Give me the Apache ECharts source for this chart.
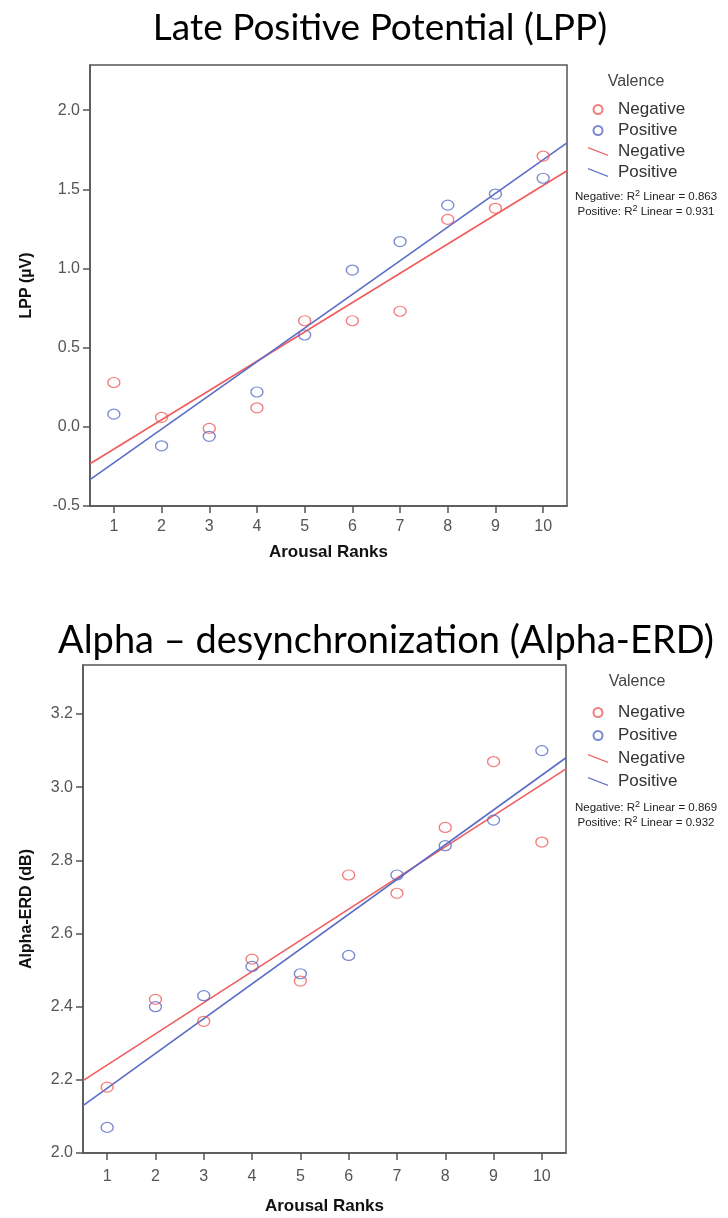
<!DOCTYPE html>
<html>
<head>
<meta charset="utf-8">
<script src="https://cdn.jsdelivr.net/npm/echarts@6/dist/echarts.min.js"></script>
<style>
html,body{margin:0;padding:0;background:#fff;}
#chart{width:728px;height:1218px;}
</style>
</head>
<body>
<div id="chart"></div>
<script>
// ---- data ----
const ranks = [1, 2, 3, 4, 5, 6, 7, 8, 9, 10];
const lppNegative = [0.28, 0.06, -0.01, 0.12, 0.67, 0.67, 0.73, 1.31, 1.38, 1.71];
const lppPositive = [0.08, -0.12, -0.06, 0.22, 0.58, 0.99, 1.17, 1.40, 1.47, 1.57];
const erdNegative = [2.18, 2.42, 2.36, 2.53, 2.47, 2.76, 2.71, 2.89, 3.07, 2.85];
const erdPositive = [2.07, 2.40, 2.43, 2.51, 2.49, 2.54, 2.76, 2.84, 2.91, 3.10];
const lppTicks = [-0.5, 0.0, 0.5, 1.0, 1.5, 2.0];
const erdTicks = [2.0, 2.2, 2.4, 2.6, 2.8, 3.0, 3.2];
const lppR2 = ['0.863', '0.931'];
const erdR2 = ['0.869', '0.932'];
const titles = ['Late Positive Potential (LPP)', 'Alpha \u2013 desynchronization (Alpha-ERD)'];
const yNames = ['LPP (\u00b5V)', 'Alpha-ERD (dB)'];
const xName = 'Arousal Ranks';
const groups = ['Negative', 'Positive'];

// ---- styling ----
const RED = '#f05c5c';
const BLUE = '#5a6cc6';
const X_MIN = 0.5, X_MAX = 10.5;

function pairs(xs, ys) { return xs.map((x, i) => [x, ys[i]]); }
// least-squares linear fit, evaluated at the x-axis extent
function fitLine(xs, ys) {
  const n = xs.length;
  const mx = xs.reduce((a, b) => a + b, 0) / n;
  const my = ys.reduce((a, b) => a + b, 0) / n;
  let sxy = 0, sxx = 0;
  for (let i = 0; i < n; i++) { sxy += (xs[i] - mx) * (ys[i] - my); sxx += (xs[i] - mx) * (xs[i] - mx); }
  const b = sxy / sxx, a = my - b * mx;
  return [[X_MIN, a + b * X_MIN], [X_MAX, a + b * X_MAX]];
}

const labelFont = { fontFamily: 'Liberation Sans, Arial, sans-serif', fontSize: 16, color: '#555' };
const nameFont = { fontFamily: 'Liberation Sans, Arial, sans-serif', fontSize: 16, fontWeight: 'bold', color: '#111' };

function xAxisCfg(gi, margin, nameGap) {
  return {
    gridIndex: gi, type: 'value', min: X_MIN, max: X_MAX,
    name: xName, nameLocation: 'middle', nameGap: nameGap,
    nameTextStyle: Object.assign({}, nameFont, { fontSize: 17 }),
    axisLine: { show: true, onZero: false, lineStyle: { color: '#555', width: 1.5 } },
    axisTick: { show: true, length: 7, customValues: ranks, lineStyle: { color: '#555', width: 1.5 } },
    axisLabel: Object.assign({ customValues: ranks, margin: margin }, labelFont),
    splitLine: { show: false }
  };
}
function yAxisCfg(gi, min, max, ticks, name, nameGap) {
  return {
    gridIndex: gi, type: 'value', min: min, max: max,
    name: name, nameLocation: 'middle', nameGap: nameGap, nameTextStyle: nameFont,
    axisLine: { show: true, onZero: false, lineStyle: { color: '#555', width: 1.5 } },
    axisTick: { show: true, length: 7, customValues: ticks, lineStyle: { color: '#555', width: 1.5 } },
    axisLabel: Object.assign({ customValues: ticks, margin: 10, formatter: v => v.toFixed(1) }, labelFont),
    splitLine: { show: false }
  };
}
function scatterSeries(name, gi, ys, color) {
  return {
    name: name, type: 'scatter', xAxisIndex: gi, yAxisIndex: gi,
    data: pairs(ranks, ys), symbol: 'circle', symbolSize: [12, 10], z: 3,
    itemStyle: { color: 'rgba(255,255,255,0)', borderColor: color, borderWidth: 1.3 }
  };
}
function fitSeries(name, gi, ys, color) {
  return {
    name: name + ' fit', type: 'line', xAxisIndex: gi, yAxisIndex: gi,
    data: fitLine(ranks, ys), symbol: 'none', z: 2, silent: true,
    itemStyle: { color: color },
    lineStyle: { color: color, width: 1.6 }
  };
}
const lineIcon = 'path://M0,0 L28,11 L28,12.6 L0,1.6 Z';
function legendCfg(top, gap) {
  return {
    orient: 'vertical', left: 583, top: top, itemGap: gap,
    itemWidth: 30, itemHeight: 9, selectedMode: false,
    textStyle: { fontFamily: 'Liberation Sans, Arial, sans-serif', fontSize: 17, color: '#333', lineHeight: 16 },
    formatter: n => n.replace(' fit', ''),
    data: [
      { name: 'Negative' }, { name: 'Positive' },
      { name: 'Negative fit', icon: lineIcon }, { name: 'Positive fit', icon: lineIcon }
    ]
  };
}
function r2Text(y, grp, val) {
  return {
    type: 'text', x: 646, y: y,
    style: {
      text: grp + ': R{sup|2} Linear = ' + val,
      x: 0, y: 0, align: 'center', verticalAlign: 'middle',
      font: '11.5px "Liberation Sans", Arial, sans-serif', fill: '#222',
      rich: { sup: { fontSize: 9, verticalAlign: 'top', padding: [0, 0, 6, 0], fill: '#222' } }
    }
  };
}
function plainText(x, y, txt, font, fill) {
  return { type: 'text', x: x, y: y,
    style: { text: txt, x: 0, y: 0, align: 'center', verticalAlign: 'middle', font: font, fill: fill } };
}

const chart = echarts.init(document.getElementById('chart'), null, { renderer: 'canvas' });
chart.setOption({
  backgroundColor: '#fff',
  animation: false,
  grid: [
    { left: 90, top: 65, width: 477, height: 441, show: true, borderColor: '#555', borderWidth: 1.5, backgroundColor: '#fff' },
    { left: 83, top: 665, width: 483, height: 488, show: true, borderColor: '#555', borderWidth: 1.5, backgroundColor: '#fff' }
  ],
  xAxis: [xAxisCfg(0, 13, 38), xAxisCfg(1, 16, 45)],
  yAxis: [
    yAxisCfg(0, -0.5, 2.285, lppTicks, yNames[0], 55),
    yAxisCfg(1, 2.0, 3.334, erdTicks, yNames[1], 48)
  ],
  legend: [legendCfg(96, 4), legendCfg(699, 6)],
  series: [
    scatterSeries(groups[0], 0, lppNegative, RED),
    scatterSeries(groups[1], 0, lppPositive, BLUE),
    fitSeries(groups[0], 0, lppNegative, RED),
    fitSeries(groups[1], 0, lppPositive, BLUE),
    scatterSeries(groups[0], 1, erdNegative, RED),
    scatterSeries(groups[1], 1, erdPositive, BLUE),
    fitSeries(groups[0], 1, erdNegative, RED),
    fitSeries(groups[1], 1, erdPositive, BLUE)
  ],
  graphic: [
    plainText(380, 28, titles[0], '37px Lato, "Liberation Sans", sans-serif', '#000'),
    plainText(386, 641, titles[1], '38px Lato, "Liberation Sans", sans-serif', '#000'),
    plainText(636, 82, 'Valence', '16px "Liberation Sans", Arial, sans-serif', '#444'),
    plainText(637, 682, 'Valence', '16px "Liberation Sans", Arial, sans-serif', '#444'),
    r2Text(197, groups[0], lppR2[0]),
    r2Text(212, groups[1], lppR2[1]),
    r2Text(808, groups[0], erdR2[0]),
    r2Text(823, groups[1], erdR2[1])
  ]
});
</script>
</body>
</html>
